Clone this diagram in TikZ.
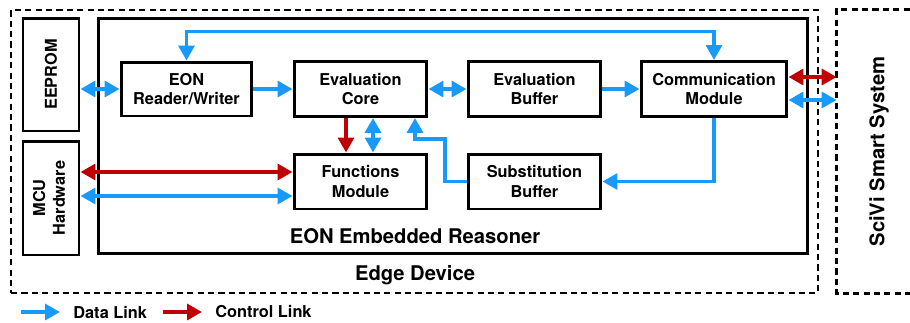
\documentclass[tikz,border=0pt]{standalone}
\usepackage{fontspec}
\setmainfont{TeX Gyre Heros}
\usepackage{graphicx}
\usetikzlibrary{arrows.meta}
\usetikzlibrary{positioning}

\definecolor{dataBlue}{RGB}{24,154,252}
\definecolor{ctrlRed}{RGB}{192,0,0}

\tikzstyle{every node}=[font=\fontsize{9.3}{11.3}\selectfont\bfseries, inner sep=0pt]
\tikzstyle{block}=[rectangle, draw=black, line width=1.7pt, align=center, minimum width=2.66cm, minimum height=1.1cm]
\tikzstyle{frame}=[rectangle, draw=black, line width=1.7pt]
\tikzstyle{zone}=[rectangle, draw=black, line width=1.5pt, dash pattern=on 3.5pt off 2.4pt]
\tikzstyle{title}=[font=\fontsize{11.5}{13}\selectfont\bfseries]
\tikzstyle{data}=[draw=dataBlue, line width=2.1pt]
\tikzstyle{ctrl}=[draw=ctrlRed, line width=2.1pt]

\begin{document}
\begin{tikzpicture}[x=0.02cm, y=-0.02cm, >={Triangle[length=8.5pt, width=9pt]}]
    \useasboundingbox (0,0) rectangle (910,322);

    % Device and system zones
    \node[zone, minimum width=16.14cm, minimum height=5.66cm] (edge) at (414.5,151.5) {};
    \node[rectangle, minimum width=1.68cm, minimum height=5.66cm] (scivi) at (879,151.5) {\rotatebox{90}{\fontsize{11.5}{13}\selectfont SciVi Smart System}};
    \draw[zone] (scivi.north west) ++(73,0) -- (scivi.north west) -- (scivi.south west) -- ++(73,0);

    % Reasoner frame
    \node[frame, minimum width=14.2cm, minimum height=4.72cm] (reasoner) at (453,136) {};
    \node[title] (reasonerlabel) at (415,236) {EON Embedded Reasoner};
    \node[title] (edgelabel) at (415,275) {Edge Device};

    % Hardware on the left
    \node[frame, minimum width=1.12cm, minimum height=2.26cm] (eeprom) at (51,74.5) {\rotatebox{90}{EEPROM}};
    \node[frame, minimum width=1.12cm, minimum height=2.28cm] (mcu) at (51,198) {\rotatebox{90}{\begin{tabular}{@{}c@{}}MCU\\Hardware\end{tabular}}};

    % Reasoner modules
    \node[block, minimum width=2.62cm, minimum height=1.08cm] (rw) at (186.5,89) {EON\\Reader/Writer};
    \node[block] (core) at (360.5,89) {Evaluation\\Core};
    \node[block] (evbuf) at (534.5,89) {Evaluation\\Buffer};
    \node[block, minimum width=2.92cm] (comm) at (714,89) {Communication\\Module};
    \node[block] (fm) at (360.5,181.5) {Functions\\Module};
    \node[block] (sb) at (534.5,181.5) {Substitution\\Buffer};

    % Data links
    \draw[data, <->] (eeprom.east |- rw.west) -- (rw.west);
    \draw[data, <->] (rw.north) -- ++(0,-29) -| (comm.north);
    \foreach \a/\b in {rw/core, evbuf/comm} {
        \draw[data, ->] (\a) -- (\b);
    }
    \draw[data, <->] (core) -- (evbuf);
    \draw[data, <->] (core.south -| 373,0) -- (fm.north -| 373,0);
    \draw[data, ->] (sb.west) -| (445,139) -| (core.south -| 415,0);
    \draw[data, ->] (comm.south) |- (sb.east);
    \draw[data, <->] (mcu.east |- 0,196) -- (fm.west |- 0,196);
    \draw[data, <->] (comm.east |- 0,100) -- (scivi.west |- 0,100);

    % Control links
    \draw[ctrl, ->] (core.south -| 346,0) -- (fm.north -| 346,0);
    \draw[ctrl, <->] (mcu.east |- 0,172) -- (fm.west |- 0,172);
    \draw[ctrl, <->] (comm.east |- 0,77) -- (scivi.west |- 0,77);

    % Legend
    \coordinate (dl0) at (21,312);
    \coordinate (dl1) at (60,312);
    \coordinate (cl0) at (163,312);
    \coordinate (cl1) at (202,312);
    \draw[data, ->] (dl0) -- (dl1);
    \draw[ctrl, ->] (cl0) -- (cl1);
    \node[anchor=west] (dltext) at (73,312) {Data Link};
    \node[anchor=west] (cltext) at (215,312) {Control Link};
\end{tikzpicture}
\end{document}
